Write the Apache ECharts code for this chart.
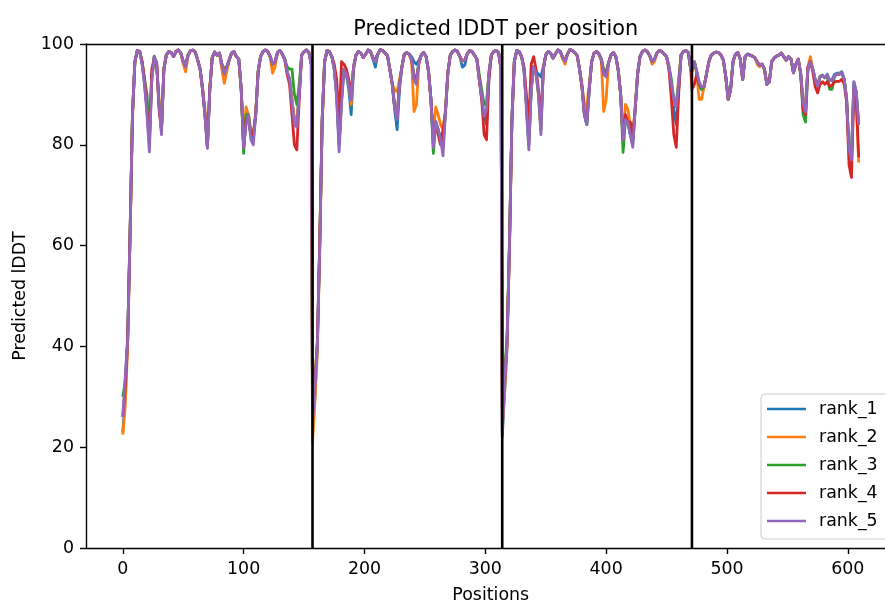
<!DOCTYPE html>
<html><head><meta charset="utf-8">
<script src="https://cdn.jsdelivr.net/npm/echarts@6/dist/echarts.min.js"></script>
<style>html,body{margin:0;padding:0;background:#fff}#c{width:885px;height:603px}</style>
</head><body><div id="c"></div>
<script>
// ---- data ----
const chainStarts = [0, 157, 314, 471];
const chainEnds = [156, 313, 470, 609];
const sampleStep = 2;
const chainBreaks = [157, 314, 471];
const seriesNames = ['rank_1', 'rank_2', 'rank_3', 'rank_4', 'rank_5'];
const xTicks = [0, 100, 200, 300, 400, 500, 600];
const yTicks = [0, 20, 40, 60, 80, 100];

const rank_1 = [
  // chain A
  23,30,41,62,86,96.5,98.7,98.5,96,92, 87,80,93,97.5,96,88,83,95,97.8,98.5, 98.3,97.5,98.5,98.8,98.2,96.5,95.8,97.8,98.7,98.8, 98.4,96.8,95,91,86,80,91,97.3,98.4,97.8, 98.2,95.5,93,95,96.8,98.2,98.5,97.5,97,91, 79.5,85,85,82,81,86,94.5,97.5,98.5,98.8, 98.5,97.5,96,96.5,98.3,98.7,98,97,94.5,93, 89,85,85,90,97.8,98.5,98.8,98.3,96,
  // chain B
  23,30,40,60,85,96.5,98.7,98.5,97.5,95, 90,80,89,95,94,91,86,95,97.8,98.5, 98.2,97.3,98,98.8,98.5,97,95.4,98,98.9,98.7, 98.2,97.7,95,92,87,83,91,95.5,98,98.3, 98,97.5,96.5,96,96.8,97.8,98.3,97.5,94.6,89, 80,84.5,83,81,80,86.4,94.3,97.8,98.5,98.8, 98.5,97.5,95.4,95.8,98,98.7,98.5,97.8,97,93, 89,86,84,93.5,97.8,98.5,98.7,98.3,95,
  // chain C
  22,31,40,60,85,96.5,98.7,98.5,97.5,95, 88,80,91,95.5,94.5,94,93.5,95.5,97.8,98.5, 98.2,97.2,98,98.8,98.5,97.3,96.5,98,98.9,98.7, 98.3,97.7,95,91.5,86,84,91,96.5,98.2,98.5, 98,97,94,94,96.3,97.8,98.3,97.5,94.8,90, 81,85,84.5,82,80,87,94,97.5,98.5,98.8, 98.5,97.7,96.5,97,98.2,98.7,98.5,98,97.5,95, 91,87,84,91,97.8,98.5,98.7,98.3,95,
  // chain D
  95.5,96.5,94.5,91.5,91,91.5,94,96.5,97.8,98.2, 98.4,98.3,97.8,96.8,93.5,89,91,96.5,98,98.3, 97,93,97.5,98,97.8,97.6,97.3,96.5,95.8,96, 95,92,92.5,96.5,97.2,97.6,97.8,98.2,97.5,96.8, 97.5,97,94.3,96,97,94.2,88.5,88,95.4,96.5, 95,93,91.6,93.5,93.8,93.3,94,92.8,93,94, 94.2,94.2,94.5,93,89,79,77.5,92.5,90.5,84
];
const rank_2 = [
  22.5,28,40,61,85,96.3,98.7,98.5,96.3,92.5, 88,81,93,97.3,96,89,83,95,97.8,98.5, 98.3,97.5,98.5,98.8,98.2,96,94.5,97.6,98.7,98.8, 98.4,96.8,95,91.5,87,80,91.5,97.3,98.4,97.8, 98.2,95,92.2,94.5,96.8,98.2,98.5,97.5,97,91, 80,87.5,86,83,82,86.5,94.5,97.5,98.5,98.8, 98.5,97.3,94.2,95.5,98.3,98.7,98,97,94.5,93, 89,85,84,90,97.8,98.5,98.8,98.3,96,
  21,29,39,59,84,96.3,98.7,98.5,97.5,95, 90,81,89,95,94,92,88,95.5,97.8,98.5, 98.2,97.3,98,98.8,98.5,97.2,96.5,98,98.9,98.7, 98.2,97.7,95,92,91,90.5,93,95.5,98,98.3, 98,96.5,86.6,88,96,97.8,98.3,97.5,94.6,89, 82,87.5,86,84,83,87,94.3,97.8,98.5,98.8, 98.5,97.5,96.5,96.8,98,98.7,98.5,97.8,97,93, 90,88,88,94.3,97.8,98.5,98.7,98.3,95,
  24,31,40,59,84,96.3,98.7,98.5,97.5,95, 88,81,91,95.5,94.2,90,83,95,97.8,98.5, 98.2,97.2,98,98.8,98.5,97,96,98,98.9,98.7, 98.3,97.7,95,92,88,87.5,92,96.5,98.2,98.5, 98,96.5,86.6,89,96.3,97.8,98.3,97.5,94.8,90, 82,88,87,84,82,87,94,97.5,98.5,98.8, 98.5,97.7,96,96.5,98.2,98.7,98.5,98,97.5,95.5, 92,88,88,93,97.8,98.5,98.7,98.3,95,
  95.5,96.5,94,89,89,91.5,94,96.5,97.8,98.2, 98.4,98.3,97.8,96.8,93.5,89,91,96.5,98,98.3, 97,93,97.5,98,97.8,97.6,97.3,96,95.5,96, 95,92,92.5,96.5,97.2,97.6,97.8,98.2,97.5,96.8, 97.5,97,94.3,96,97,94.2,88,88,95.5,97.5, 95,93,91.6,93.5,93.8,93.3,93.8,92.8,92.8,93.6, 94,94,94.3,93,89,79,76,91,88,76.5
];
const rank_3 = [
  30,33,42,63,86,96.5,98.7,98.5,96.5,93, 90,82,94,97.6,96,88,83,95,97.8,98.5, 98.3,97.5,98.5,98.8,98.2,96.5,96,97.8,98.7,98.8, 98.4,96.8,95,91,86,79.5,91,97.3,98.4,97.8, 98.2,96,95,95.5,96.8,98.2,98.5,97.5,97,91, 78.3,86,86,82,82,86,94.5,97.5,98.5,98.8, 98.5,97.5,96,96.5,98.3,98.7,98,97,95.5,95, 95,90,88,92,97.8,98.5,98.8,98.3,96,
  27,33,41,61,85,96.5,98.7,98.5,97.5,95, 90,80,89,95,94,92,89,95.5,97.8,98.5, 98.2,97.3,98,98.8,98.5,97.2,97,98,98.9,98.7, 98.2,97.7,95,92,87.5,86,92,95.5,98,98.3, 98,97,94,93,96.3,97.8,98.3,97.5,94.6,89, 78.3,84.5,83,81,80,86.4,94.3,97.8,98.5,98.8, 98.5,97.5,96.7,96.8,98,98.7,98.5,97.8,97,94, 91,88,88,94.3,97.8,98.5,98.7,98.3,95,
  33,35,42,61,85,96.5,98.7,98.5,97.5,95, 88,80,91.5,95.5,94.2,90,83,95,97.8,98.5, 98.2,97.2,98,98.8,98.5,97.3,96.8,98,98.9,98.7, 98.3,97.7,95,91.5,86,84,91,96.5,98.2,98.5, 98,97,95,94.5,96.3,97.8,98.3,97.5,94.8,90, 78.5,85,84.5,82,81,87,94,97.5,98.5,98.8, 98.5,97.7,96.5,97,98.2,98.7,98.5,98,97.5,95.5, 93,89,88,92.5,97.8,98.5,98.7,98.3,95,
  94.5,96.5,94.5,92,91,91.5,94,96.5,97.8,98.2, 98.4,98.3,97.8,96.8,93.5,89,91,96.5,98,98.3, 97,93,97.5,98,97.8,97.6,97.3,96.5,95.8,96, 95,92,92.5,96.5,97.2,97.6,97.8,98.2,97.5,96.8, 97.5,97,94.3,96,97,94,86,84.5,95,96.5, 95,93,92,93.5,93.8,93.3,93.5,91,91,93.6, 94,94,94.3,93,89,79,77.5,92,90,84
];
const rank_4 = [
  26,32,41,62,86,96.5,98.7,98.5,96.5,93, 87,81,95,97,96.5,87,83,95,97.8,98.5, 98.3,97.5,98.5,98.8,98.2,96.5,95.8,97.8,98.7,98.8, 98.4,96.8,95,91,86,79.5,91,97.3,98.4,97.8, 98.2,96,94.5,95.5,96.8,98.2,98.5,97.5,97,91, 79.5,85,85,82,82,86,94.5,97.5,98.5,98.8, 98.5,97.5,96,96.5,98.3,98.7,98,97,94,92, 86,80,79,89,97.8,98.5,98.8,98.3,96,
  28,33,41,61,85,96.5,98.7,98.5,97.5,96, 93,84,96.5,96,95,93,90,95.5,97.8,98.5, 98.2,97.3,98,98.8,98.5,97.2,97,98,98.9,98.7, 98.2,97.7,95,92,87.5,85.5,92,95.5,98,98.3, 98,97,93,92.5,96.3,97.8,98.3,97.5,94.6,89, 81,84,82,80,83,86.4,94.3,97.8,98.5,98.8, 98.5,97.5,96.7,96.8,98,98.7,98.5,97.8,97,93, 89,82,81,93,97.8,98.5,98.7,98.3,95,
  28,33,41,60,85,96.5,98.7,98.5,97.5,95.5, 90,84,96,97.5,95,91,85,95,97.8,98.5, 98.2,97.2,98,98.8,98.5,97.3,96.8,98,98.9,98.7, 98.3,97.7,95,91.5,86,85,91,96.5,98.2,98.5, 98,97,94,94,96.3,97.8,98.3,97.5,94.8,90, 81,86,84.5,84.5,82,87,94,97.5,98.5,98.8, 98.5,97.7,96.5,97,98.2,98.7,98.5,98,97.5,95, 89,82,79.5,90,97.8,98.5,98.7,98.3,95,
  91,92,94,92,91.5,91.5,94,96.5,97.8,98.2, 98.4,98.3,97.8,96.8,93.5,89,91,96.5,98,98.3, 97,93,97.5,98,97.8,97.6,97.3,96.5,95.8,96, 95,92,92.5,96.5,97.2,97.6,97.8,98.2,97.5,96.8, 97.5,97,94.3,96,97,94,87,86,95.4,96.5, 94.5,91.5,90.3,92,92.5,92,92.5,91.6,91.8,92.5, 92.6,92.6,93,92,88.5,76,73.5,91,89,77.5
];
const rank_5 = [
  26,34,41,62,86,96.5,98.7,98.5,96,92, 86,78.6,93,97.5,96,88,82,95,97.8,98.5, 98.3,97.5,98.5,98.8,98.2,96.5,95.5,97.8,98.7,98.8, 98.4,96.8,95,91,86,79.3,91,97.3,98.4,97.8, 98.2,96,94,95.5,96.8,98.2,98.5,97.5,97,91, 79.5,84,86,81,80,86,94.5,97.5,98.5,98.8, 98.5,97.5,96,96.5,98.3,98.7,98,97,94.5,93, 88,84,83.5,90,97.8,98.5,98.8,98.3,96,
  25,32,40,60,85,96.5,98.7,98.5,97.5,95, 89,78.6,88,95,94,92,88.9,95.5,97.8,98.5, 98.2,97.3,98,98.8,98.5,97.2,96.5,98,98.9,98.7, 98.2,97.7,95,92,87.5,85,92,95.5,98,98.3, 98,97,93,92,96.3,97.8,98.3,97.5,94.6,89, 79.5,84.7,83,81,77.8,86.4,94.3,97.8,98.5,98.8, 98.5,97.5,96.7,96.8,98,98.7,98.5,97.8,97,93, 89.6,85.7,87,94.3,97.8,98.5,98.7,98.3,95,
  23,33,41,60,85,96.5,98.7,98.5,97.5,95, 87,79,91,95.5,94.2,90,82,95,97.8,98.5, 98.2,97.2,98,98.8,98.5,97.3,96.5,98,98.9,98.7, 98.3,97.7,95,91.5,86,84,91,96.5,98.2,98.5, 98,97,94,93.5,96.3,97.8,98.3,97.5,94.8,90, 81,85,84.5,82,79.5,87,94,97.5,98.5,98.8, 98.5,97.7,96.5,97,98.2,98.7,98.5,98,97.5,95.5, 92,89,87.5,92,97.8,98.5,98.7,98.3,95,
  95,96.5,94.5,92.5,91.5,91.5,94,96.5,97.8,98.2, 98.4,98.3,97.8,96.8,93.5,89,91,96.5,98,98.3, 97,93,97.5,98,97.8,97.6,97.3,96.5,95.8,96, 95,92,92.5,96.5,97.2,97.6,97.8,98.2,97.5,96.8, 97.5,97,94.3,96,97,94.2,88.2,86.5,95.4,96.5, 95,93,91.6,93.5,93.8,93.3,93.8,92.8,92.8,93.6, 94,94,94.3,93,89,79,77,92.5,90.5,84
];
const rankValues = [rank_1, rank_2, rank_3, rank_4, rank_5];

// ---- build ----
const positions = [];
chainStarts.forEach((s, c) => { for (let p = s; p <= chainEnds[c]; p += sampleStep) positions.push(p); });

const colors = ['#1f77b4', '#ff7f0e', '#2ca02c', '#d62728', '#9467bd'];
const FONT = 'DejaVu Sans';
const yMin = 0, yMax = 100;
const xMin = -30.45, xMax = 639.45;

const series = seriesNames.map((name, i) => ({
  name, type: 'line', showSymbol: false, symbol: 'none', animation: false,
  data: positions.map((x, j) => [x, rankValues[i][j]]),
  lineStyle: { color: colors[i], width: 2.8, join: 'round', cap: 'butt' },
  itemStyle: { color: colors[i] }, z: 2 + i * 0.01
}));
chainBreaks.forEach(b => series.push({
  name: 'break_' + b, type: 'line', showSymbol: false, symbol: 'none', animation: false, silent: true,
  data: [[b, yMin], [b, yMax]], lineStyle: { color: '#000', width: 2.6 }, z: 3
}));

const axisLineStyle = { color: '#000', width: 1.4 };
const chart = echarts.init(document.getElementById('c'), null, { renderer: 'canvas', width: 885, height: 603 });
chart.setOption({
  animation: false,
  backgroundColor: '#fff',
  textStyle: { fontFamily: FONT },
  title: {
    text: 'Predicted lDDT per position', left: 490.7, top: 14, textAlign: 'center',
    textStyle: { fontFamily: FONT, fontSize: 20.8, fontWeight: 'normal', color: '#000' }
  },
  grid: { left: 86, top: 44, width: 809.5, height: 504, containLabel: false, outerBoundsMode: 'none' },
  xAxis: [{
    type: 'value', min: xMin, max: xMax, position: 'bottom',
    name: 'Positions', nameLocation: 'middle', nameGap: 39,
    nameTextStyle: { fontFamily: FONT, fontSize: 17.4, color: '#000' },
    axisLine: { show: true, onZero: false, lineStyle: axisLineStyle },
    axisTick: { show: true, length: 6, lineStyle: axisLineStyle, customValues: xTicks },
    axisLabel: { show: true, margin: 13, fontFamily: FONT, fontSize: 17.4, color: '#000', customValues: xTicks },
    splitLine: { show: false }
  }, {
    type: 'value', min: xMin, max: xMax, position: 'top',
    axisLine: { show: true, onZero: false, lineStyle: axisLineStyle },
    axisTick: { show: false }, axisLabel: { show: false }, splitLine: { show: false }
  }],
  yAxis: {
    type: 'value', min: yMin, max: yMax, interval: 20,
    name: 'Predicted lDDT', nameLocation: 'middle', nameGap: 57, nameRotate: 90,
    nameTextStyle: { fontFamily: FONT, fontSize: 17.4, color: '#000' },
    axisLine: { show: true, onZero: false, lineStyle: axisLineStyle },
    axisTick: { show: true, length: 6, lineStyle: axisLineStyle, customValues: yTicks },
    axisLabel: { show: true, margin: 12, fontFamily: FONT, fontSize: 17.4, color: '#000', customValues: yTicks },
    splitLine: { show: false }
  },
  legend: {
    data: seriesNames, orient: 'vertical', left: 761, top: 394,
    icon: 'rect', itemWidth: 39, itemHeight: 2.6, itemGap: 8,
    padding: [5, 20, 8, 6],
    backgroundColor: 'rgba(255,255,255,0.8)', borderColor: '#cccccc', borderWidth: 1, borderRadius: 4,
    textStyle: { fontFamily: FONT, fontSize: 17.4, color: '#000', lineHeight: 20, padding: [0, 0, 0, 8] }
  },
  series
});
</script></body></html>
